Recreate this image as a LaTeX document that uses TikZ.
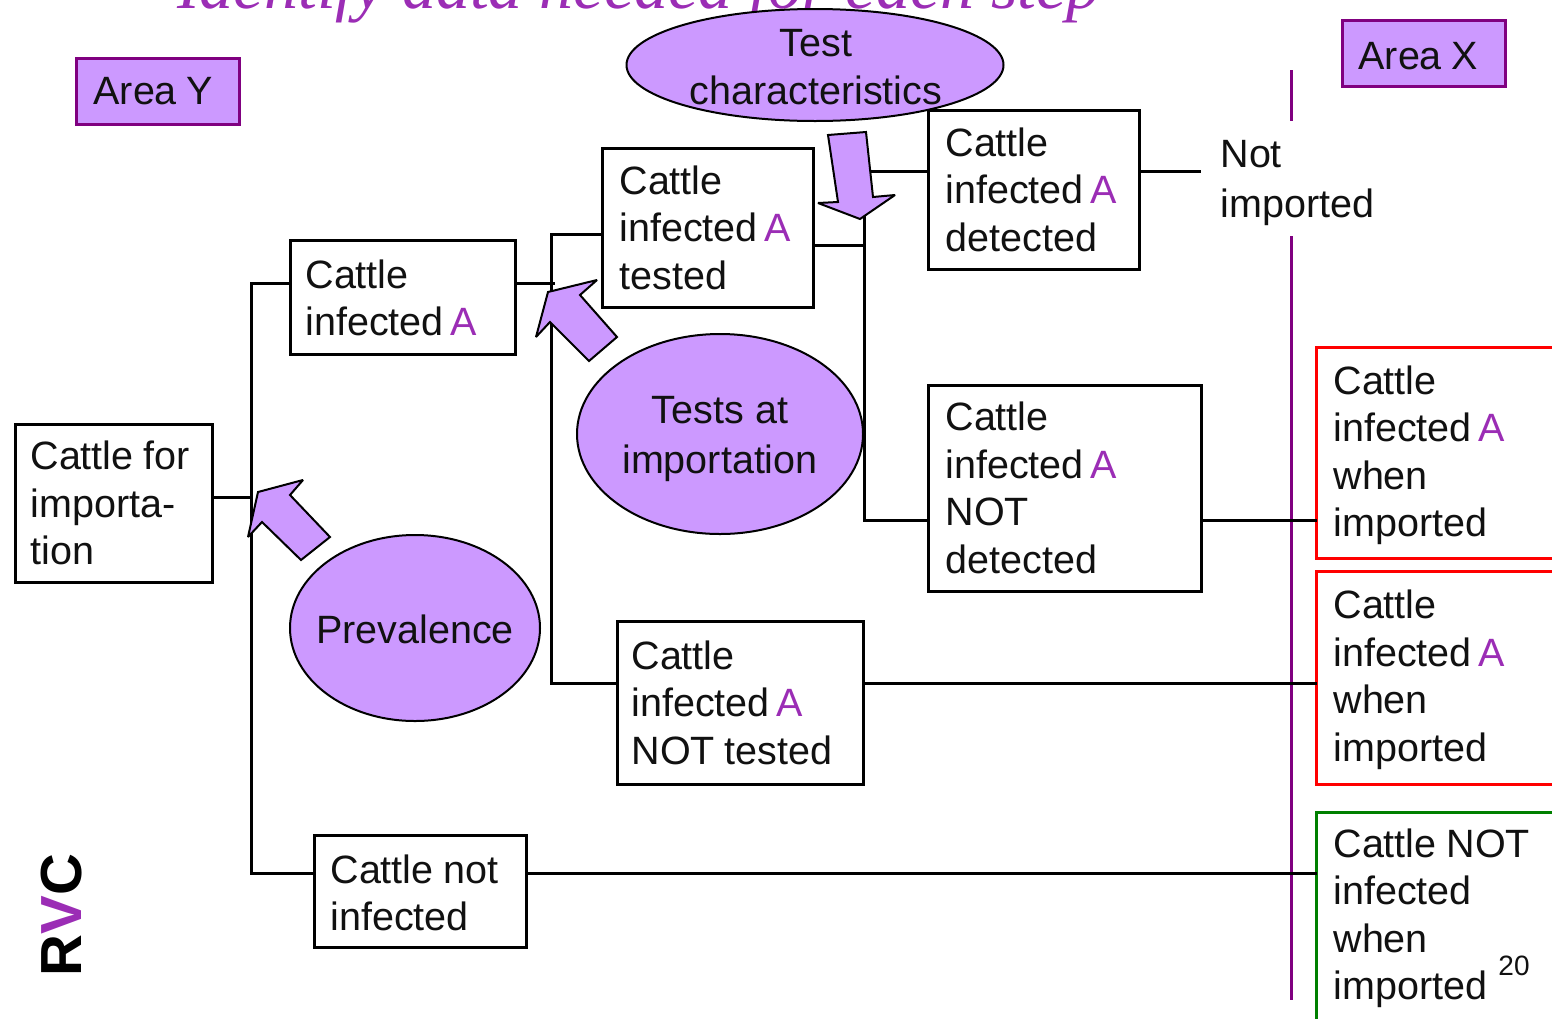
\documentclass[tikz,border=0pt]{standalone}
\usepackage{fontspec}
\setmainfont{Liberation Sans}
\newfontfamily\titlefont{Liberation Serif}
\usetikzlibrary{shapes.geometric}
\definecolor{lilac}{HTML}{CC99FF}
\definecolor{plum}{HTML}{800080}
\definecolor{accent}{HTML}{9B2DB5}
\definecolor{inkc}{HTML}{111111}
\newcommand{\wsp}{\hspace{10pt}}
\newcommand{\purA}{\hspace{7pt}\textcolor{accent}{A}}
\newcommand{\dn}[1]{\rule{0pt}{\dimexpr 28.4pt+#1\relax}}
\newcommand{\bodyfont}[1]{\fontsize{39.5}{#1}\selectfont}
\tikzset{
  txt/.style={font=\bodyfont{47.5}, text=inkc},
  size/.code n args={3}{\pgfmathsetlengthmacro\tw{#1-1-2*#3}\pgfmathsetlengthmacro\mw{#1-1}\tikzset{text width=\tw, minimum width=\mw, minimum height=#2pt, inner xsep=#3pt}},
  boxnode/.style={txt, draw=black, line width=3pt, fill=white, inner ysep=0pt, outer sep=0pt, align=left},
  areanode/.style={txt, draw=plum, line width=3pt, fill=lilac, inner ysep=0pt, outer sep=0pt, align=left},
  ell/.style={ellipse, draw=black, line width=2pt, fill=lilac, inner sep=0pt, outer sep=0pt},
  elltext/.style={txt, inner sep=0pt, align=center},
  conn/.style={draw=black, line width=3pt},
  blockarrow/.style={draw=black, line width=2pt, fill=lilac, line join=miter, miter limit=3},
}
\begin{document}
\begin{tikzpicture}[x=1pt,y=-1pt]
\useasboundingbox (0,0) rectangle (1552,1018);
\clip (0,0) rectangle (1552,1018);
\fill[white] (0,0) rectangle (1552,1018);
\node[font=\titlefont\itshape\fontsize{68}{68}\selectfont, text=accent, anchor=base] (title) at (639,8) {Identify data needed for each step};
\coordinate (lt) at (1291,70);
\coordinate (lb) at (1291,1000);
\draw[draw=plum, line width=3pt] (lt) -- (lb);
\node[ell, minimum width=377pt, minimum height=112pt] (char) at (815,65) {};
\node[elltext] (charT) at (816,67) {Test\\characteristics};
\node[ell, minimum width=286pt, minimum height=200pt] (tests) at (720,434) {};
\node[elltext, font=\bodyfont{50}] (testsT) at (720,439) {Tests at\\importation};
\node[ell, minimum width=250pt, minimum height=186pt] (prev) at (415,628) {};
\node[elltext] (prevT) at (415,629) {Prevalence};
\node[areanode, size={164}{66}{17}] (ay) at (158,91) {Area\wsp Y};
\node[areanode, size={164}{66}{16}] (ax) at (1424,53) {\dn{4pt}Area\wsp X};
\node[boxnode, size={198}{158}{15}] (imp) at (114,503) {Cattle\wsp for\\importa-\\tion};
\node[boxnode, size={226}{114}{15}] (inf) at (403,297) {\dn{2pt}Cattle\\infected\purA};
\node[boxnode, size={212}{159}{17}] (tested) at (708,227.5) {Cattle\\infected\purA\\tested};
\node[boxnode, size={212}{159}{17}] (det) at (1034,189.5) {Cattle\\infected\purA\\detected};
\node[boxnode, size={274}{206}{17}] (notdet) at (1065,488) {Cattle\\infected\purA\\NOT\\detected};
\node[boxnode, size={247}{163}{14}] (nottest) at (740.5,702.5) {Cattle\\infected\purA\\NOT\wsp tested};
\node[boxnode, size={213}{112}{16}] (notinf) at (420.5,891) {\dn{4pt}Cattle\wsp not\\infected};
\node[boxnode, draw=red, size={260}{211}{17}] (r1) at (1446,452.5) {\dn{6pt}Cattle\\infected\purA\\when\\imported};
\node[boxnode, draw=red, size={260}{213}{17}] (r2) at (1446,677.5) {\dn{5pt}Cattle\\infected\purA\\when\\imported};
\node[boxnode, draw=green!50!black, size={260}{208}{17}] (g) at (1446,916) {\dn{5pt}Cattle\wsp NOT\\infected\\when\\imported};
\node[inner xsep=0pt, inner ysep=0pt, outer sep=0pt, fill=white, minimum height=115pt, text width=155pt, align=left, text=inkc, font=\bodyfont{50}] (ni) at (1298,178) {\dn{8pt}Not\\imported};
\coordinate (j1) at (251,497);
\coordinate (t1) at (251,283);
\coordinate (tb) at (251,873);
\coordinate (j2) at (555,283);
\coordinate (t2) at (551,234);
\coordinate (t4) at (551,683);
\coordinate (j3) at (864,245);
\coordinate (d1) at (864,171);
\coordinate (d2) at (864,520);
\coordinate (niend) at (1201,171);
\draw[conn] (imp.east |- j1) -- (j1);
\draw[conn] (inf.west |- t1) -- (t1) -- (tb) -- (notinf.west |- tb);
\draw[conn] (inf.east |- j2) -- (j2);
\draw[conn] (tested.west |- t2) -- (t2) -- (t4) -- (nottest.west |- t4);
\draw[conn] (tested.east |- j3) -- (j3);
\draw[conn] (det.west |- d1) -- (d1) -- (d2) -- (notdet.west |- d2);
\draw[conn] (det.east |- d1) -- (niend);
\draw[conn] (notdet.east |- d2) -- (r1.west |- d2);
\draw[conn] (nottest.east |- t4) -- (r2.west |- t4);
\draw[conn] (notinf.east |- tb) -- (g.west |- tb);
\draw[blockarrow] (828,135) -- (866,132) -- (873,197) -- (895,195) -- (860,219) -- (818,203) -- (838,202) -- cycle;
\draw[blockarrow] (597,280) -- (580,295) -- (617,337) -- (589,361) -- (550,322) -- (536,337) -- (548,292) -- cycle;
\draw[blockarrow] (303,480) -- (290,495) -- (330,537) -- (301,560) -- (262,522) -- (248,537) -- (258,492) -- cycle;
\node[font=\bfseries\fontsize{58}{58}\selectfont, rotate=90, inner sep=0pt] (rvc) at (62,915) {R\textcolor{accent}{V}C};
\node[font=\fontsize{28}{28}\selectfont, text=inkc, inner sep=0pt] (pg) at (1514,966) {20};
\end{tikzpicture}
\end{document}
